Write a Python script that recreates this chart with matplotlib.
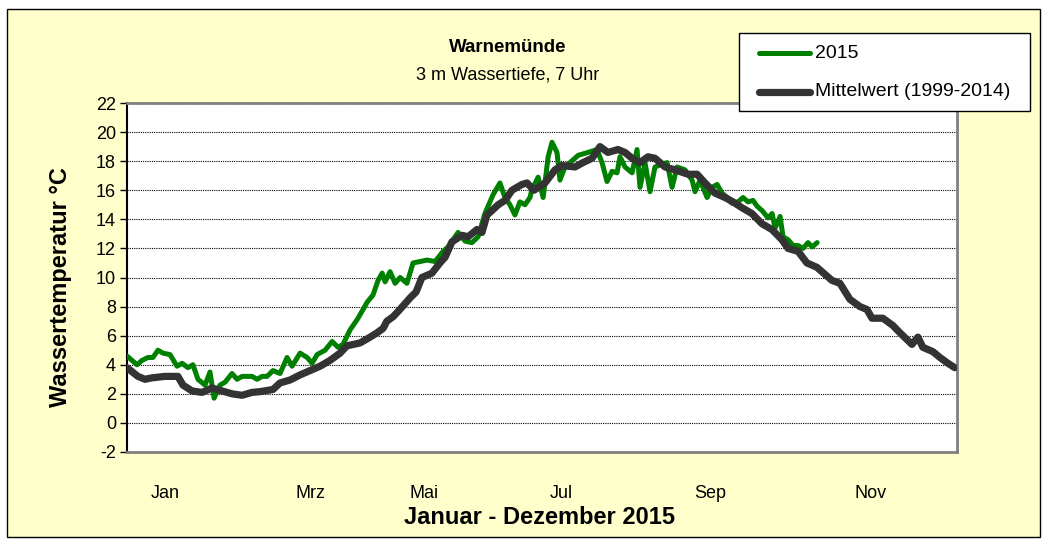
import matplotlib.pyplot as plt
from matplotlib.patches import Rectangle
from matplotlib.lines import Line2D

plt.rcParams['font.family'] = ['Liberation Sans', 'DejaVu Sans']
plt.rcParams['axes.unicode_minus'] = False

# Mittelwert 1999-2014 (Tag im Jahr, °C)
mean_day = [0, 4.8, 7.9, 11, 16.7, 22.4, 24.6, 28.6, 33, 37.4, 46.2, 50.6, 55, 58.5,
            64.2, 67.3, 71.7, 76.1, 80.5, 84.9, 89.3, 93.7, 96.7, 102.5, 106.9, 110,
            112.6, 114.3, 117, 120, 124.5, 127.1, 129.7, 134.1, 137.6, 139.9, 142.9,
            147.3, 150, 153.9, 156.1, 158.3, 160.5, 163.2, 166.2, 169.3, 173.7, 175.9,
            179, 183.8, 188.2, 191.3, 197, 200.5, 204.5, 208, 211.5, 215.9, 219, 222.1,
            225.6, 229.1, 232.2, 236.6, 241, 246.7, 250.7, 254.2, 258.6, 263, 266.5,
            270.4, 274.8, 279.2, 283.6, 288, 290.7, 295.1, 299, 303.4, 310, 313.5,
            317.9, 322.3, 325.4, 327.6, 332.4, 336.8, 339.9, 345.2, 347.8, 350, 354.4,
            357.5, 361, 364]
mean_temp = [3.8, 3.2, 3.0, 3.1, 3.2, 3.2, 2.6, 2.2, 2.1, 2.4, 2.0, 1.9, 2.1, 2.15,
             2.3, 2.75, 2.95, 3.3, 3.6, 3.9, 4.3, 4.8, 5.3, 5.5, 5.9, 6.2,
             6.5, 7.0, 7.3, 7.8, 8.6, 9.0, 10.0, 10.3, 11.0, 11.4, 12.45,
             12.9, 12.8, 13.3, 13.1, 14.3, 14.6, 15.0, 15.3, 16.0, 16.4, 16.5,
             16.0, 16.5, 17.4, 17.7, 17.6, 17.9, 18.2, 19.0, 18.6, 18.8, 18.6, 18.2,
             17.9, 18.3, 18.2, 17.6, 17.4, 17.1, 17.1, 16.5, 15.8, 15.5, 15.2,
             14.8, 14.4, 13.7, 13.3, 12.6, 12.0, 11.8, 11.0, 10.7, 9.8, 9.6,
             8.5, 8.0, 7.8, 7.2, 7.2, 6.7, 6.2, 5.4, 5.9, 5.2, 4.9,
             4.5, 4.1, 3.8]

# 2015
y15_day = [0, 4.4, 6.6, 9.2, 11.4, 13.6, 15.8, 18.9, 22, 24.2, 26.8, 29, 31.2, 34.3,
           36.5, 38.3, 40.9, 43.1, 46.2, 48.4, 50.6, 55, 57.2, 59.4, 61.6, 64.2, 67.3,
           70.4, 72.6, 76.1, 79.2, 81.4, 83.6, 87.1, 90.2, 92.8, 95, 98.1, 101.2, 103.8,
           105.6, 108.2, 110.4, 112.2, 113.5, 115.7, 117.9, 120.1, 123.1, 125.8, 128.9,
           131.9, 135.5, 139, 141.2, 145.6, 148.7, 151.7, 154.4, 157.4, 161, 164, 166.2,
           168.4, 170.6, 172.8, 175, 177.2, 178, 180.8, 183, 185.2, 186.9, 189.1, 190.4,
           192.6, 194.8, 198.4, 202.7, 206.7, 208.9, 211.1, 213.3, 215.5, 216.8, 219,
           222.1, 224.3, 225.6, 227.8, 230, 232.2, 235.3, 237.5, 239.7, 241.9, 245.4,
           248.5, 249.8, 252, 255.1, 257.3, 259.5, 261.7, 263.9, 266.1, 268.7, 270.9,
           273.1, 275.3, 277.1, 279.3, 281.9, 283.7, 285, 287.2, 288.5, 290.7, 292.9,
           295.1, 297.3, 299.5, 301.3, 303.5]
y15_temp = [4.6, 4.0, 4.3, 4.5, 4.5, 5.0, 4.8, 4.7, 3.9, 4.1, 3.8, 4.0, 3.0, 2.6,
            3.5, 1.7, 2.6, 2.8, 3.4, 3.0, 3.2, 3.2, 3.0, 3.2, 3.2, 3.6, 3.4,
            4.5, 3.9, 4.8, 4.5, 4.1, 4.7, 5.0, 5.6, 5.2, 5.4, 6.4, 7.1, 7.8,
            8.3, 8.8, 9.8, 10.3, 9.7, 10.4, 9.6, 10.0, 9.6, 11.0, 11.1,
            11.2, 11.1, 11.8, 12.1, 13.1, 12.5, 12.4, 12.8, 14.4, 15.7, 16.5, 15.5,
            15.0, 14.3, 15.2, 15.0, 15.5, 16.0, 16.9, 15.5, 18.3, 19.3, 18.6, 16.7,
            17.6, 17.9, 18.4, 18.6, 18.8, 17.9, 16.6, 17.3, 17.2, 18.3, 17.6,
            17.2, 18.8, 16.2, 17.9, 15.9, 17.6, 17.8, 17.9, 16.2, 17.6, 17.4,
            16.7, 15.9, 16.7, 15.5, 16.2, 16.4, 15.8, 15.5, 15.1, 15.2, 15.5,
            15.2, 15.3, 14.9, 14.6, 14.1, 14.4, 13.4, 14.2, 12.8, 12.6, 12.2,
            12.2, 12.0, 12.4, 12.1, 12.4]

months = ['Jan', 'Mrz', 'Mai', 'Jul', 'Sep', 'Nov']
month_pos = [16.7, 80.5, 130.6, 190.9, 256.5, 326.8]
yticks = list(range(-2, 23, 2))

GREEN = '#008000'
DARK = '#333333'

W, H = 1047, 545
fig = plt.figure(figsize=(W / 100, H / 100), dpi=100)
fig.patch.set_facecolor('white')
# gelber Rahmen hinter allem
fig.patches.append(Rectangle((7 / W, 1 - 537 / H), 1033 / W, 528 / H,
                             transform=fig.transFigure, facecolor='#FFFFCC',
                             edgecolor='black', lw=1, zorder=-10))

ax = fig.add_axes([127 / W, 1 - 452 / H, 830 / W, 349 / H])
ax.set_facecolor('white')

ax.plot(y15_day, y15_temp, color=GREEN, lw=3.6, solid_joinstyle='round',
        solid_capstyle='round', zorder=3)
ax.plot(mean_day, mean_temp, color=DARK, lw=5.2, solid_joinstyle='round',
        solid_capstyle='round', zorder=4)

ax.set_xlim(0, 365)
ax.set_ylim(-2, 22)
ax.set_yticks(yticks)
ax.set_xticks(month_pos)
ax.set_xticklabels(months)
ax.tick_params(axis='x', length=0, pad=24, labelsize=13)
ax.tick_params(axis='y', length=5, width=1, direction='out', pad=3, labelsize=13)
ax.grid(axis='y', linestyle=(0, (1, 1)), color='black', lw=0.8)

for s in ['top', 'right', 'bottom']:
    ax.spines[s].set_color('#808080')
    ax.spines[s].set_linewidth(2)
ax.spines['left'].set_color('black')
ax.spines['left'].set_linewidth(1.5)

fig.text(508 / W, 1 - 47 / H, 'Warnemünde', ha='center', va='center',
         fontsize=13.5, fontweight='bold')
fig.text(508 / W, 1 - 75 / H, '3 m Wassertiefe, 7 Uhr', ha='center', va='center',
         fontsize=13)
fig.text(60 / W, 1 - 287 / H, 'Wassertemperatur °C', ha='center', va='center',
         rotation=90, fontsize=17, fontweight='bold')
fig.text(540 / W, 1 - 517 / H, 'Januar - Dezember 2015', ha='center', va='center',
         fontsize=17, fontweight='bold')

# Legende
fig.patches.append(Rectangle((739 / W, 1 - 111 / H), 291 / W, 78 / H,
                             transform=fig.transFigure, facecolor='white',
                             edgecolor='black', lw=1, zorder=5))
leg_labels = ['2015', 'Mittelwert (1999-2014)']
leg_colors = [GREEN, DARK]
leg_widths = [3.6, 5.2]
leg_rows = [53, 92]
for lab, col, lw, row in zip(leg_labels, leg_colors, leg_widths, leg_rows):
    fig.lines.append(Line2D([759 / W, 810 / W], [1 - row / H, 1 - row / H],
                            transform=fig.transFigure, color=col, lw=lw,
                            solid_capstyle='round', zorder=6))
    fig.text(815 / W, 1 - row / H, lab, ha='left', va='center', fontsize=14,
             zorder=6)

fig.savefig('out.png', dpi=100)
